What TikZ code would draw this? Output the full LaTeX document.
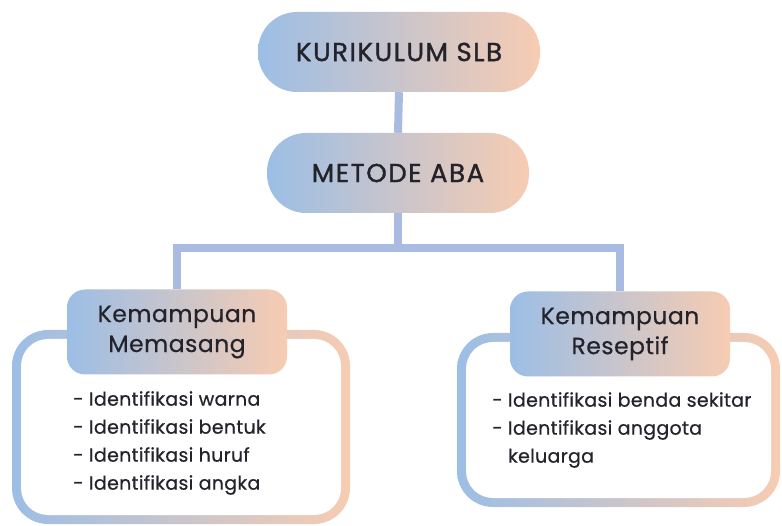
\documentclass[tikz,border=0pt]{standalone}
\usepackage{fontspec}
\setmainfont{Poppins}[FakeBold=0.5,LetterSpace=1.5]
\newfontfamily\headfont{Poppins}[FakeBold=0.4,LetterSpace=2]
\newfontfamily\titlefont{Poppins}[FakeBold=1.3,LetterSpace=6]
\usepackage{xcolor}
\usetikzlibrary{positioning,backgrounds}
\definecolor{gradblue}{HTML}{9CBEE5}
\definecolor{gradpeach}{HTML}{F7CCB2}
\definecolor{linkblue}{HTML}{AABBE2}
\definecolor{inkdark}{HTML}{23232B}
\tikzset{
  link/.style={draw=linkblue,line width=8pt},
}

\begin{document}
\begin{tikzpicture}[x=1pt,y=-1pt,
  pill/.style={left color=gradblue,right color=gradpeach,rounded corners=39pt,
    minimum height=80pt,text=inkdark,font=\titlefont\fontsize{26}{30}\selectfont},
  head/.style={left color=gradblue,right color=gradpeach,rounded corners=18pt,
    minimum width=220pt,minimum height=85pt,align=center,text=inkdark,
    font=\headfont\fontsize{23.5}{30}\selectfont},
  frame/.style={left color=gradblue,right color=gradpeach,rounded corners=36pt},
  framein/.style={fill=white,rounded corners=27pt},
  listtxt/.style={align=left,anchor=west,text=inkdark,inner sep=0pt,
    font=\fontsize{19}{28}\selectfont},
]
  \useasboundingbox (0,0) rectangle (782,526);

  % top levels
  \node[pill,minimum width=282pt] (kur) at (399,52) {KURIKULUM SLB};
  \node[pill,minimum width=262pt] (aba) at (398,173) {METODE ABA};

  % left branch
  \node[frame,minimum width=338pt,minimum height=194pt] (memframe) at (181,427) {};
  \node[framein,minimum width=320pt,minimum height=176pt] (memin) at (memframe) {};
  \node[head] (mem) at (177,332) {Kemampuan\\Memasang};
  \node[listtxt] (memlist) at (73,443) {%
    - Identifikasi warna\\
    - Identifikasi bentuk\\
    - Identifikasi huruf\\
    - Identifikasi angka};

  % right branch
  \node[frame,minimum width=323pt,minimum height=174pt] (resframe) at (618.5,420) {};
  \node[framein,minimum width=305pt,minimum height=156pt] (resin) at (resframe) {};
  \node[head] (res) at (620,334) {Kemampuan\\Reseptif};
  \node[listtxt] (reslist) at (492,430) {%
    - Identifikasi benda sekitar\\
    - Identifikasi anggota\\
    \phantom{- }keluarga};

  \coordinate (fork) at (aba.south |- 0,248);
  \begin{scope}[on background layer]
    \draw[link] (kur.south) -- (aba.north);
    \draw[link] (aba.south) -- (fork);
    \draw[link] (fork) -| (mem.north);
    \draw[link] (fork) -| (res.north);
  \end{scope}
\end{tikzpicture}
\end{document}
